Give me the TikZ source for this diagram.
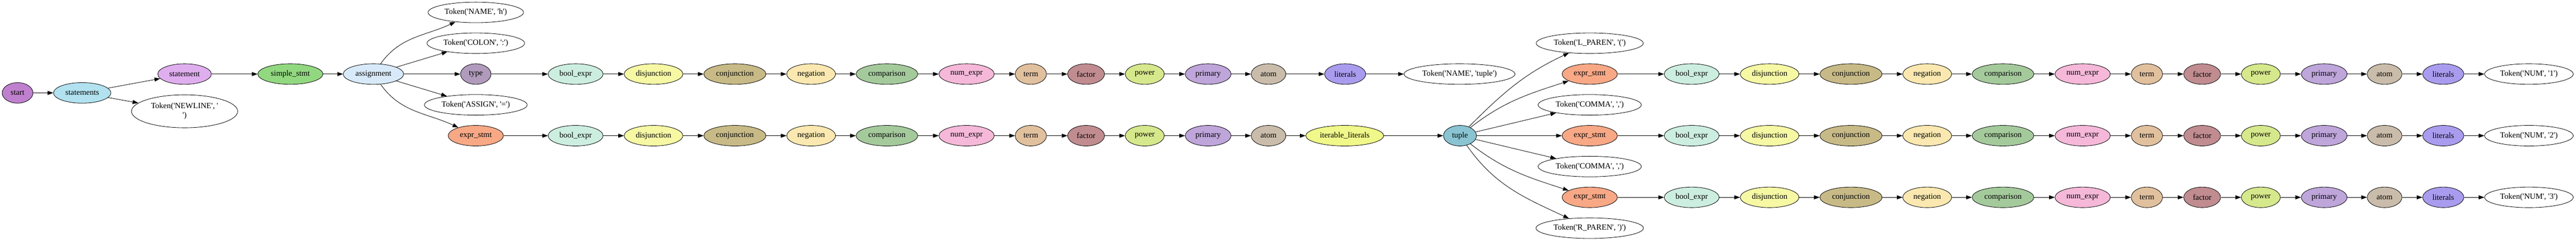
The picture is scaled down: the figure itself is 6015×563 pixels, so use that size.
\documentclass[tikz,border=0pt]{standalone}
\usepackage{fontspec}
\newfontfamily\gvfont{Liberation Serif}
\usetikzlibrary{shapes.geometric,arrows.meta}

\definecolor{cstart}{RGB}{191,128,206}
\definecolor{cstatements}{RGB}{178,226,240}
\definecolor{cstatement}{RGB}{223,174,238}
\definecolor{csimple}{RGB}{146,216,128}
\definecolor{cassign}{RGB}{216,234,250}
\definecolor{ctype}{RGB}{176,155,188}
\definecolor{cbool}{RGB}{204,238,224}
\definecolor{cdisj}{RGB}{246,248,164}
\definecolor{cconj}{RGB}{200,186,134}
\definecolor{cneg}{RGB}{251,232,176}
\definecolor{ccomp}{RGB}{164,202,156}
\definecolor{cnum}{RGB}{246,184,216}
\definecolor{cterm}{RGB}{225,192,158}
\definecolor{cfactor}{RGB}{192,140,144}
\definecolor{cpower}{RGB}{214,232,140}
\definecolor{cprimary}{RGB}{190,165,218}
\definecolor{catom}{RGB}{201,188,170}
\definecolor{clit}{RGB}{169,156,239}
\definecolor{citer}{RGB}{240,248,138}
\definecolor{ctuple}{RGB}{138,196,210}
\definecolor{cexpr}{RGB}{249,168,134}

\begin{document}
\begin{tikzpicture}
	[   x=0.75pt,y=0.75pt,
		pnode/.style 2 args={draw=black,fill=#1,ellipse,minimum width=#2*0.75pt,minimum height=36pt,inner sep=0pt,line width=0.75pt,font=\gvfont\fontsize{14}{16}\selectfont},
		tnode/.style={pnode={white}{#1}},
	]
	\tikzset{normal arrow/.style={draw,line width=0.75pt,-{Triangle[length=10pt,width=7pt]}}}
	\useasboundingbox (0,0) rectangle (6015,-563);
	
	\node[pnode={cstart}{72}] (start) at (41,-217) {start};
	\node[pnode={cstatements}{134}] (stmts) at (192,-217) {statements};
	\node[pnode={cstatement}{125}] (stmt) at (431,-173) {statement};
	\node[tnode=248,minimum height=57.75pt,align=center] (newline) at (431,-260) {Token('NEWLINE', '\\')};
	\node[pnode={csimple}{152}] (simple) at (678,-173) {simple\_stmt};
	\node[pnode={cassign}{141}] (assign) at (872,-173) {assignment};
	
	\node[tnode=223] (name-h) at (1111,-29) {Token('NAME', 'h')};
	\node[tnode=228] (colon) at (1111,-101) {Token('COLON', ':')};
	\node[pnode={ctype}{71}] (type) at (1111,-173) {type};
	\node[tnode=240] (assign-tok) at (1111,-245) {Token('ASSIGN', '=')};
	\node[pnode={cexpr}{129}] (expr-0) at (1111,-317) {expr\_stmt};
	
	\path[normal arrow] (start) -- (stmts);
	\path[normal arrow] (stmts) -- (stmt);
	\path[normal arrow] (stmts) -- (newline);
	\path[normal arrow] (stmt) -- (simple);
	\path[normal arrow] (simple) -- (assign);
	\path[normal arrow] (assign) to[out=55,in=205] (name-h);
	\path[normal arrow] (assign) -- (colon);
	\path[normal arrow] (assign) -- (type);
	\path[normal arrow] (assign) -- (assign-tok);
	\path[normal arrow] (assign) to[out=-55,in=155] (expr-0);
	
	% expression chains
	\foreach \r/\x/\y in {a/1344/-173, b/1344/-317, c1/3950/-173, c2/3950/-317, c3/3950/-461}
	{
		\foreach \i/\dx/\w/\c/\t [evaluate=\i as \j using int(\i-1)] in
			{1/0/128/cbool/bool\_expr, 2/182/137/cdisj/disjunction, 3/372/145/cconj/conjunction,
			 4/550/114/cneg/negation, 5/727/144/ccomp/comparison, 6/913/129/cnum/num\_expr,
			 7/1063/73/cterm/term, 8/1192/86/cfactor/factor, 9/1329/91/cpower/power,
			 10/1477/107/cprimary/primary, 11/1618/81/catom/atom}
		{
			\node[pnode={\c}{\w}] (\r-\i) at (\x+\dx,\y) {\t};
			\ifnum \i > 1
			\path[normal arrow] (\r-\j) -- (\r-\i);
			\fi
		}
	}
	
	\path[normal arrow] (type) -- (a-1);
	\path[normal arrow] (expr-0) -- (b-1);
	
	\node[pnode={clit}{96}] (lit-a) at (3141,-173) {literals};
	\node[tnode=259] (name-tuple) at (3408,-173) {Token('NAME', 'tuple')};
	\node[pnode={citer}{182}] (iter) at (3140,-317) {iterable\_literals};
	\node[pnode={ctuple}{77}] (tuple) at (3409,-317) {tuple};
	\path[normal arrow] (a-11) -- (lit-a);
	\path[normal arrow] (lit-a) -- (name-tuple);
	\path[normal arrow] (b-11) -- (iter);
	\path[normal arrow] (iter) -- (tuple);
	
	\node[tnode=250] (lparen) at (3712,-101) {Token('L\_PAREN', '(')};
	\node[tnode=241] (comma-1) at (3712,-245) {Token('COMMA', ',')};
	\node[tnode=241] (comma-2) at (3712,-389) {Token('COMMA', ',')};
	\node[tnode=251] (rparen) at (3712,-533) {Token('R\_PAREN', ')')};
	
	\foreach \n/\y in {1/-173, 2/-317, 3/-461}
	{
		\node[pnode={cexpr}{129}] (e-\n) at (3712,\y) {expr\_stmt};
		\node[pnode={clit}{96}] (lit-c\n) at (5705,\y) {literals};
		\node[tnode=207] (num-\n) at (5905,\y) {Token('NUM', '\n')};
		\path[normal arrow] (e-\n) -- (c\n-1);
		\path[normal arrow] (c\n-11) -- (lit-c\n);
		\path[normal arrow] (lit-c\n) -- (num-\n);
	}
	
	\path[normal arrow] (tuple) to[out=45,in=205] (lparen);
	\path[normal arrow] (tuple) to[out=38,in=198] (e-1);
	\path[normal arrow] (tuple) -- (comma-1);
	\path[normal arrow] (tuple) -- (e-2);
	\path[normal arrow] (tuple) -- (comma-2);
	\path[normal arrow] (tuple) to[out=-38,in=162] (e-3);
	\path[normal arrow] (tuple) to[out=-55,in=155] (rparen);
\end{tikzpicture}
\end{document}
